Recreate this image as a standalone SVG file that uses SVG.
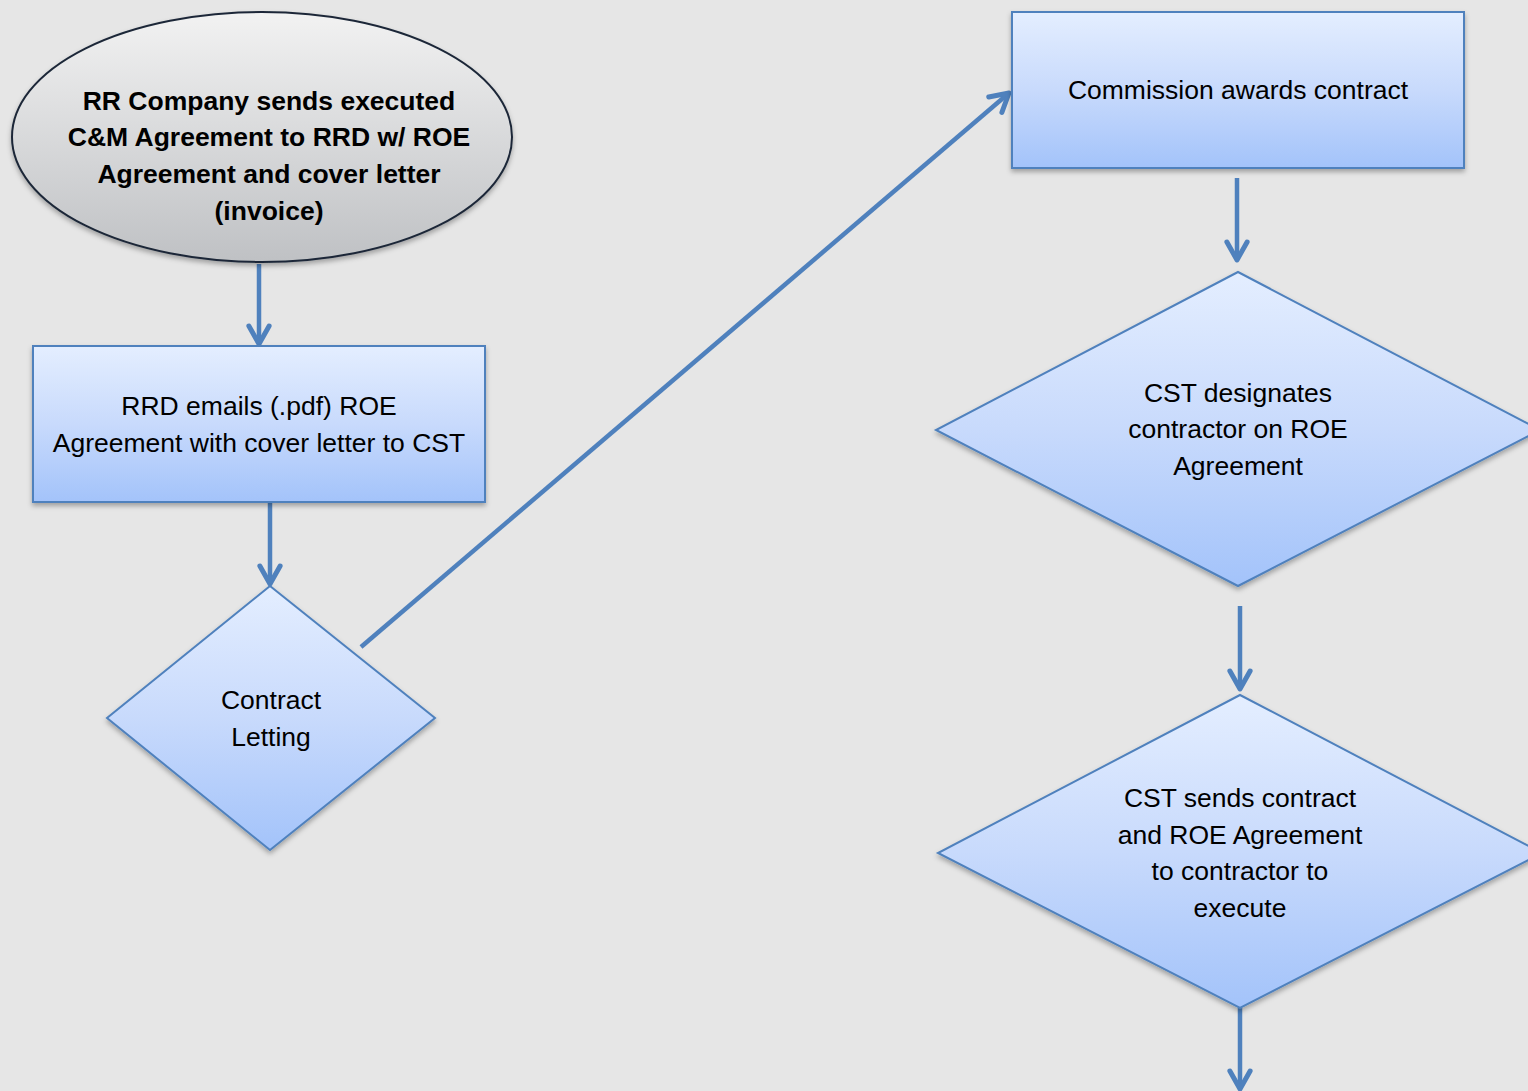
<svg xmlns="http://www.w3.org/2000/svg" width="1528" height="1091" viewBox="0 0 1528 1091">
<defs>
<linearGradient id="gBlue" x1="0" y1="0" x2="0" y2="1">
<stop offset="0" stop-color="#e4eeff"/>
<stop offset="0.5" stop-color="#c8dafc"/>
<stop offset="1" stop-color="#a3c3fa"/>
</linearGradient>
<linearGradient id="gGray" x1="0" y1="0" x2="0" y2="1">
<stop offset="0" stop-color="#f2f2f2"/>
<stop offset="1" stop-color="#bfc1c4"/>
</linearGradient>
<filter id="sh" x="-10%" y="-10%" width="120%" height="125%">
<feDropShadow dx="0" dy="3" stdDeviation="2.5" flood-color="#000" flood-opacity="0.3"/>
</filter>
<marker id="arr" viewBox="0 0 12 12" refX="10.5" refY="6" markerWidth="6" markerHeight="6" orient="auto" markerUnits="strokeWidth">
<path d="M2.5,1.5 L10.5,6 L2.5,10.5" fill="none" stroke="#4f81bd" stroke-width="2.2" stroke-linecap="round" stroke-linejoin="round"/>
</marker>
</defs>
<style>
.box{fill:url(#gBlue);stroke:#4f81bd;stroke-width:2;filter:url(#sh)}
.t{font-family:"Liberation Sans",Arial,sans-serif;font-size:26.5px;fill:#000;text-anchor:middle;dominant-baseline:central}
.b{font-weight:bold}
.c{stroke:#4f81bd;stroke-width:4.5;fill:none;marker-end:url(#arr)}
</style>
<rect width="1528" height="1091" fill="#e6e6e6"/>
<g id="connectors">
<line class="c" x1="259" y1="264" x2="259" y2="344"/>
<line class="c" x1="270" y1="503" x2="270" y2="584"/>
<line class="c" x1="361" y1="647" x2="1009" y2="93"/>
<line class="c" x1="1237" y1="178" x2="1237" y2="260"/>
<line class="c" x1="1240" y1="606" x2="1240" y2="689"/>
<line class="c" x1="1240" y1="1008" x2="1240" y2="1089"/>
</g>
<g id="start">
<ellipse cx="262" cy="137" rx="250" ry="125" fill="url(#gGray)" stroke="#1c2838" stroke-width="2" filter="url(#sh)"/>
<text class="t b" x="269" y="101">RR Company sends executed</text>
<text class="t b" x="269" y="137">C&amp;M Agreement to RRD w/ ROE</text>
<text class="t b" x="269" y="174">Agreement and cover letter</text>
<text class="t b" x="269" y="211">(invoice)</text>
</g>
<g id="rrd-emails">
<rect class="box" x="33" y="346" width="452" height="156"/>
<text class="t" x="259" y="406">RRD emails (.pdf) ROE</text>
<text class="t" x="259" y="443">Agreement with cover letter to CST</text>
</g>
<g id="contract-letting">
<polygon class="box" points="270,586 435,718 270,850 107,718"/>
<text class="t" x="271" y="700">Contract</text>
<text class="t" x="271" y="737">Letting</text>
</g>
<g id="commission">
<rect class="box" x="1012" y="12" width="452" height="156"/>
<text class="t" x="1238" y="90">Commission awards contract</text>
</g>
<g id="cst-designates">
<polygon class="box" points="1238,272 1540,430 1238,586 936,430"/>
<text class="t" x="1238" y="393">CST designates</text>
<text class="t" x="1238" y="429">contractor on ROE</text>
<text class="t" x="1238" y="466">Agreement</text>
</g>
<g id="cst-sends">
<polygon class="box" points="1240,695 1542,853 1240,1008 938,853"/>
<text class="t" x="1240" y="798">CST sends contract</text>
<text class="t" x="1240" y="835">and ROE Agreement</text>
<text class="t" x="1240" y="871">to contractor to</text>
<text class="t" x="1240" y="908">execute</text>
</g>
</svg>
